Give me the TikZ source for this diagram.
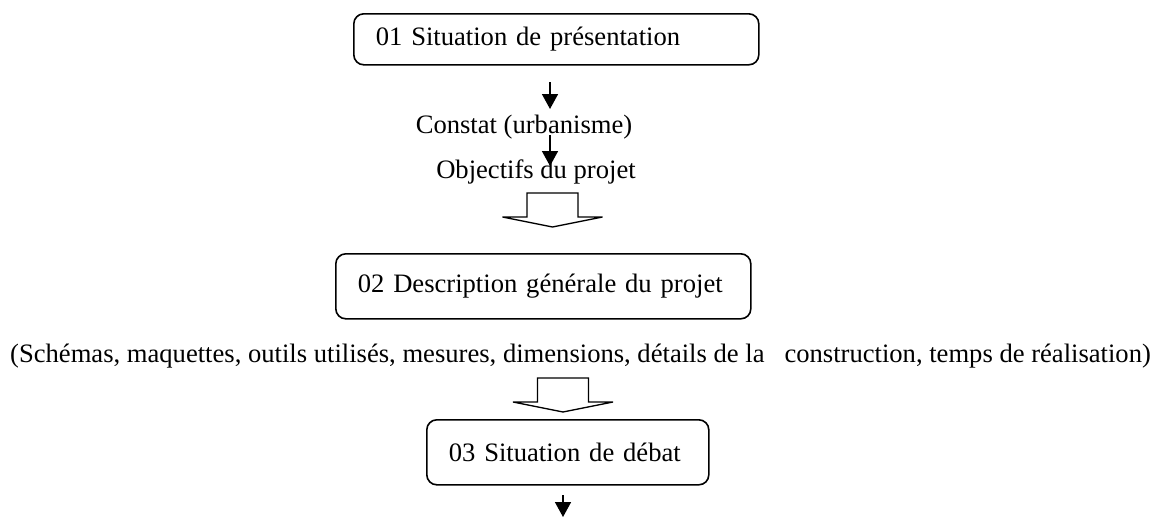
\documentclass[tikz,border=0pt]{standalone}
\usepackage{fontspec}
\setmainfont{Liberation Serif}
\usetikzlibrary{arrows.meta}
\begin{document}
\begin{tikzpicture}[x=1pt,y=-1pt,
  every node/.style={font=\fontsize{26.6pt}{32pt}\selectfont},
  stage/.style={draw, line width=1.6pt, rounded corners=10pt, align=left,
    inner xsep=22pt, inner ysep=0pt, anchor=north west},
  caption/.style={inner sep=0pt, anchor=base},
  flow/.style={line width=1.6pt, -{Triangle[length=15pt,width=16pt]}},
  blockdown/.pic={
    \draw[line width=1.3pt, fill=white, line join=miter]
      (-25.5,0) -- (25.5,0) -- (25.5,24) -- (50,24) -- (0,34)
      -- (-50,24) -- (-25.5,24) -- cycle;
  }]
\useasboundingbox (0,0) rectangle (1159,517);

% stages
\node[stage, text width=361pt, minimum height=51pt] (s1) at (353,13)
  {01 Situation de présentation};
\node[stage, text width=371pt, minimum height=65pt] (s2) at (335,253)
  {02 Description générale du projet};
\node[stage, text width=238pt, minimum height=65pt] (s3) at (426,419)
  {03 Situation de débat};

% captions
\node[caption] (constat) at (524,133) {Constat (urbanisme)};
\node[caption] (objectifs) at (536,178) {Objectifs du projet};
\node[caption] (details) at (580.5,362)
  {(Schémas, maquettes, outils utilisés, mesures, dimensions, détails de la\ \ \ construction, temps de réalisation)};

% small arrows
\coordinate (a1s) at (550,82);
\coordinate (a1e) at (550,109);
\coordinate (a2s) at (550,135);
\coordinate (a2e) at (550,166);
\coordinate (a3s) at (563,495);
\coordinate (a3e) at (563,517);
\draw[flow] (a1s) -- (a1e);
\draw[flow] (a2s) -- (a2e);
\draw[flow] (a3s) -- (a3e);

% block arrows
\pic (b1) at (552.5,193) {blockdown};
\pic (b2) at (563,378) {blockdown};
\end{tikzpicture}
\end{document}
